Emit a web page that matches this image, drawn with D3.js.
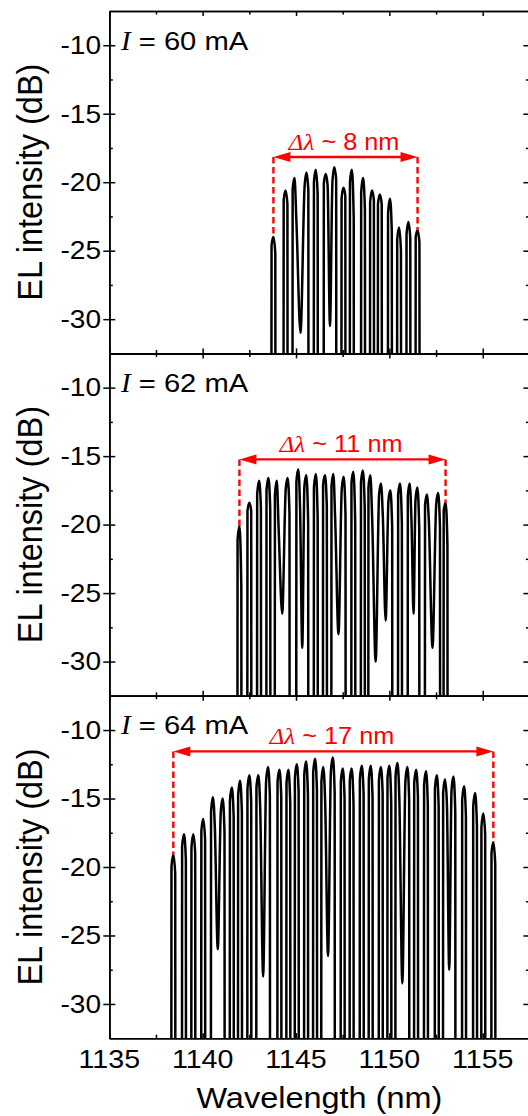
<!DOCTYPE html>
<html>
<head>
<meta charset="utf-8">
<script src="https://cdn.jsdelivr.net/npm/d3@7"></script>
<style>
  html, body { margin: 0; padding: 0; background: #fff; }
  svg { display: block; }
  text { font-family: "Liberation Sans", Arial, sans-serif; fill: #000; }
</style>
</head>
<body>
<svg id="chart" width="528" height="1116"></svg>
<script>
// ---- axis ticks ----
const xMajorTicks = [1135, 1140, 1145, 1150, 1155];
const xMinorTicks = [1137.5, 1142.5, 1147.5, 1152.5];
const yMajorTicks = [-30, -25, -20, -15, -10];
const yMinorTicks = [-27.5, -22.5, -17.5, -12.5];

// ---- drive currents (mA) ----
const currents = [60, 62, 64];

// ---- 60 mA: longitudinal modes ----
// peak = mode maximum, rise / shoulder = level on the short / long wavelength flank,
// dip = minimum between neighbouring modes (-45 means below the plotted range)
const modeNm60 = [1143.79, 1144.44, 1144.92, 1145.56, 1146.06, 1146.59, 1147.05, 1147.54,
                  1147.99, 1148.59, 1149.07, 1149.49, 1150.03, 1150.52, 1151.02, 1151.51];
const peakDb60 = [-24.0, -20.6, -19.7, -19.3, -19.1, -19.4, -18.9, -20.4,
                  -19.1, -19.7, -20.6, -20.9, -21.2, -23.3, -22.9, -23.5];
const riseDb60 = [-24.6, -21.3, -20.5, -20.3, -20.0, -20.1, -20.0, -21.2,
                  -20.0, -20.8, -21.5, -21.6, -22.3, -24.2, -23.8, -24.0];
const shoulderDb60 = [-25.2, -21.6, -22.8, -20.6, -20.9, -20.2, -19.8, -21.0,
                      -22.6, -22.0, -21.3, -21.6, -23.6, -25.0, -24.1, -24.4];
const dipDb60 = [-45, -45, -31.0, -45, -45, -30.5, -45, -45, -45, -45, -45, -45, -45, -45, -45];

// ---- 62 mA ----
const modeNm62 = [1141.97, 1142.50, 1143.02, 1143.52, 1143.97, 1144.55, 1145.12, 1145.55,
                  1146.06, 1146.55, 1147.00, 1147.55, 1148.07, 1148.58, 1148.98, 1149.55,
                  1150.05, 1150.57, 1151.09, 1151.50, 1152.01, 1152.61, 1153.01];
const peakDb62 = [-20.1, -18.4, -16.8, -16.6, -16.8, -16.6, -15.95, -16.4,
                  -16.3, -16.4, -16.3, -16.5, -16.15, -16.05, -16.4, -17.0,
                  -17.5, -17.0, -17.0, -17.3, -17.8, -17.7, -18.4];
const riseDb62 = [-21.1, -19.0, -17.8, -17.5, -17.9, -17.4, -16.9, -17.2,
                  -17.3, -17.1, -17.2, -17.4, -17.0, -16.9, -17.3, -17.8,
                  -18.3, -17.8, -17.9, -18.2, -18.6, -18.5, -19.0];
const shoulderDb62 = [-24.5, -19.0, -18.8, -18.9, -20.3, -19.2, -19.0, -19.8,
                      -19.5, -18.7, -19.7, -19.3, -19.9, -18.8, -19.6, -19.4,
                      -20.2, -19.9, -20.0, -20.4, -19.6, -20.2, -21.5];
const dipDb62 = [-45, -45, -45, -45, -26.5, -45, -29.0, -45, -45, -45, -28.0,
                 -45, -45, -45, -30.0, -27.0, -45, -45, -26.5, -45, -29.0, -45];

// ---- 64 mA ----
const modeNm64 = [1138.43, 1139.00, 1139.50, 1140.03, 1140.55, 1141.07, 1141.56, 1142.00,
                  1142.50, 1142.98, 1143.50, 1144.11, 1144.59, 1145.04, 1145.54, 1146.02,
                  1146.46, 1146.97, 1147.50, 1147.98, 1148.52, 1149.00, 1149.54, 1150.00,
                  1150.43, 1150.96, 1151.43, 1151.96, 1152.54, 1152.98, 1153.43, 1154.00,
                  1154.59, 1155.03, 1155.57];
const peakDb64 = [-19.1, -17.6, -17.6, -16.5, -14.9, -15.0, -14.2, -13.7,
                  -13.3, -13.3, -12.7, -12.9, -12.9, -12.5, -12.3, -12.1,
                  -12.7, -12.0, -12.8, -12.8, -12.6, -12.6, -12.7, -12.6,
                  -12.4, -12.7, -12.9, -13.0, -13.3, -13.6, -13.4, -14.1,
                  -14.6, -16.1, -18.2];
const riseDb64 = [-20.0, -18.5, -18.6, -17.4, -16.0, -16.0, -15.2, -14.8,
                  -14.3, -14.2, -13.7, -13.8, -13.9, -13.5, -13.3, -13.1,
                  -13.8, -13.0, -13.8, -13.7, -13.6, -13.6, -13.7, -13.5,
                  -13.4, -13.7, -13.9, -14.0, -14.3, -14.6, -14.4, -15.1,
                  -15.6, -17.1, -19.0];
const shoulderDb64 = [-20.5, -19.5, -19.0, -18.0, -17.0, -17.5, -16.3, -16.0,
                      -15.3, -15.6, -14.8, -14.9, -15.3, -14.5, -14.8, -14.4,
                      -15.2, -14.6, -15.0, -15.4, -14.7, -15.0, -14.6, -15.3,
                      -14.8, -15.1, -14.9, -15.5, -15.6, -15.3, -16.0, -16.3,
                      -17.0, -17.6, -19.8];
const dipDb64 = [-45, -45, -45, -45, -26.0, -45, -45, -45, -45, -28.0, -45, -45,
                 -45, -45, -45, -45, -26.5, -45, -45, -45, -45, -45, -45, -45,
                 -28.5, -45, -45, -45, -45, -27.5, -45, -45, -45, -45];

// ---- lasing bandwidth annotations ----
const spanLevelDb = [-18.16, -15.24, -11.56];
const spanWidthNm = ["8", "11", "17"];

// ---- layout ----
const plotLeft = 109.3, plotW = 420.1, plotTop = 11, panelH = 342.4;
const xDomain = [1135, 1157.5], yDomain = [-32.5, -7.5];
const floorDb = -45;
const flankNm = 0.1, footNm = 0.112;   // half-widths of a mode line near its top / at its foot
const TEXT_SX = 1.1;                    // horizontal glyph stretch used for every label

const x = d3.scaleLinear().domain(xDomain).range([plotLeft, plotLeft + plotW]);
const svg = d3.select("#chart");

const panels = [
  { current: currents[0], nm: modeNm60, peak: peakDb60, rise: riseDb60, shoulder: shoulderDb60, dip: dipDb60 },
  { current: currents[1], nm: modeNm62, peak: peakDb62, rise: riseDb62, shoulder: shoulderDb62, dip: dipDb62 },
  { current: currents[2], nm: modeNm64, peak: peakDb64, rise: riseDb64, shoulder: shoulderDb64, dip: dipDb64 }
];

// vertices of one spectrum, mode by mode
function spectrumVertices(p) {
  const v = [];
  const n = p.nm.length;
  p.nm.forEach((nm, i) => {
    const before = i > 0 ? p.dip[i - 1] : floorDb;
    if (before <= floorDb) v.push([nm - footNm, floorDb]);
    v.push([nm - flankNm, p.rise[i]]);
    v.push([nm, p.peak[i]]);
    v.push([nm + flankNm, p.shoulder[i]]);
    const after = i < n - 1 ? p.dip[i] : floorDb;
    if (after <= floorDb) v.push([nm + footNm, floorDb]);
    else v.push([(nm + p.nm[i + 1]) / 2, after]);
  });
  return v;
}

function placeText(sel, px, py, rotate) {
  sel.attr("x", 0).attr("y", 0)
     .attr("transform", `translate(${px},${py}) scale(${TEXT_SX},1)` + (rotate ? " rotate(-90)" : ""));
  return sel;
}

const defs = svg.append("defs");

panels.forEach((p, k) => {
  const top = plotTop + k * panelH;
  const bottom = top + panelH;
  const y = d3.scaleLinear().domain(yDomain).range([bottom, top]);
  const g = svg.append("g").attr("class", "panel");

  defs.append("clipPath").attr("id", "clip" + k)
    .append("rect").attr("x", plotLeft).attr("y", top).attr("width", plotW).attr("height", panelH);

  // spectrum
  const line = d3.line().x(d => x(d[0])).y(d => y(d[1])).curve(d3.curveMonotoneX);
  g.append("path")
    .attr("clip-path", `url(#clip${k})`)
    .attr("d", line(spectrumVertices(p)))
    .attr("fill", "none").attr("stroke", "#000")
    .attr("stroke-width", 2.5).attr("stroke-linejoin", "round");

  // axes: x ticks point inward, major y ticks cross the axis line
  const axisStyle = s => {
    s.selectAll("path, line").attr("stroke", "#000").attr("stroke-width", 1.5);
    s.selectAll("text").remove();
  };
  const addAxis = (gen, tx, ty) =>
    g.append("g").attr("transform", `translate(${tx},${ty})`).call(gen).call(axisStyle);

  addAxis(d3.axisLeft(y).tickValues(yMajorTicks).tickSizeInner(-6).tickSizeOuter(0), plotLeft, 0);
  addAxis(d3.axisLeft(y).tickValues(yMajorTicks).tickSizeInner(6).tickSizeOuter(0), plotLeft, 0);
  addAxis(d3.axisLeft(y).tickValues(yMinorTicks).tickSizeInner(-3.5).tickSizeOuter(0), plotLeft, 0);
  addAxis(d3.axisRight(y).tickValues(yMajorTicks).tickSizeInner(-6).tickSizeOuter(0), plotLeft + plotW, 0);
  addAxis(d3.axisRight(y).tickValues(yMinorTicks).tickSizeInner(-3.5).tickSizeOuter(0), plotLeft + plotW, 0);
  addAxis(d3.axisBottom(x).tickValues(xMajorTicks).tickSizeInner(-5).tickSizeOuter(0), 0, bottom);
  addAxis(d3.axisBottom(x).tickValues(xMinorTicks).tickSizeInner(-3.5).tickSizeOuter(0), 0, bottom);
  addAxis(d3.axisTop(x).tickValues(xMajorTicks).tickSizeInner(-5).tickSizeOuter(0), 0, top);
  addAxis(d3.axisTop(x).tickValues(xMinorTicks).tickSizeInner(-3.5).tickSizeOuter(0), 0, top);

  // y tick labels
  yMajorTicks.forEach(t => {
    placeText(g.append("text"), 101, y(t) + 8.8, false)
      .attr("text-anchor", "end").attr("font-size", 25.5).text(String(t));
  });

  // y title
  placeText(g.append("text"), 42, (top + bottom) / 2, true)
    .attr("text-anchor", "middle").attr("font-size", 32.5).text("EL intensity (dB)");

  // current label
  const cur = placeText(g.append("text"), 121, top + 38.5, false).attr("font-size", 26.5);
  cur.append("tspan").attr("font-family", "Liberation Serif").attr("font-style", "italic").text("I");
  cur.append("tspan").text(` = ${p.current} mA`);

  // bandwidth arrow, spanning the outermost lasing modes
  const n = p.nm.length;
  const x0 = x(p.nm[0]), x1 = x(p.nm[n - 1]);
  const ya = y(spanLevelDb[k]);
  const red = "#ff0000";
  g.append("line").attr("x1", x0).attr("x2", x0).attr("y1", ya).attr("y2", y(p.peak[0]))
    .attr("stroke", red).attr("stroke-width", 2.4).attr("stroke-dasharray", "6.5,3.5");
  g.append("line").attr("x1", x1).attr("x2", x1).attr("y1", ya).attr("y2", y(p.peak[n - 1]))
    .attr("stroke", red).attr("stroke-width", 2.4).attr("stroke-dasharray", "6.5,3.5");
  const headL = 17, headW = 5;
  g.append("line").attr("x1", x0 + headL - 2).attr("x2", x1 - headL + 2).attr("y1", ya).attr("y2", ya)
    .attr("stroke", red).attr("stroke-width", 2.4);
  g.append("path").attr("fill", red)
    .attr("d", `M${x0},${ya} L${x0 + headL},${ya - headW} L${x0 + headL},${ya + headW} Z`);
  g.append("path").attr("fill", red)
    .attr("d", `M${x1},${ya} L${x1 - headL},${ya - headW} L${x1 - headL},${ya + headW} Z`);

  const lab = placeText(g.append("text"), (x0 + x1) / 2 - 1.5, ya - 7.3, false)
    .attr("text-anchor", "middle").attr("font-size", 23).attr("fill", red);
  lab.append("tspan").attr("font-family", "Liberation Serif").attr("font-style", "italic")
    .attr("fill", red).text("\u0394\u03bb");
  lab.append("tspan").attr("fill", red).text(` ~ ${spanWidthNm[k]} nm`);

  // x tick labels and title only under the last panel
  if (k === panels.length - 1) {
    xMajorTicks.forEach(t => {
      placeText(g.append("text"), x(t), bottom + 29.3, false)
        .attr("text-anchor", "middle").attr("font-size", 26).text(String(t));
    });
    placeText(g.append("text"), plotLeft + plotW / 2, bottom + 69.5, false)
      .attr("text-anchor", "middle").attr("font-size", 29.5).text("Wavelength (nm)");
  }
});
</script>
</body>
</html>
